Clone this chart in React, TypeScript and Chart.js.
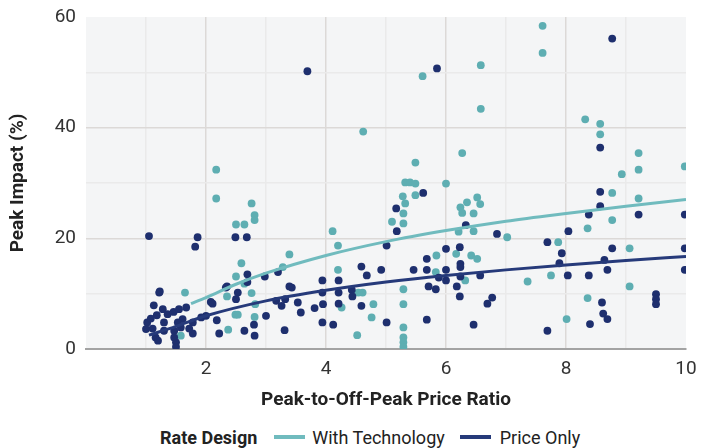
import React, { useEffect, useRef } from "react";
import { Chart, registerables } from "chart.js";

Chart.register(...registerables);

// ---- data ----
const withTechnology: [number, number][] = [
  [2.17, 32.4], [2.17, 27.2], [2.76, 26.3], [2.81, 24.2], [2.81, 23.3], [2.5, 22.5], [2.64, 22.5],
  [3.39, 17.1], [2.59, 15.5], [3.28, 14.8], [2.5, 13.1], [2.64, 11.8], [2.76, 10.1], [2.35, 9.5],
  [1.65, 10.2], [2.82, 8.1], [2.49, 6.2], [2.53, 6.2], [2.81, 5.8], [2.37, 3.5], [1.58, 2.4],
  [4.11, 21.3], [4.2, 18.7], [4.2, 14.3], [4.26, 7.5], [4.62, 39.3], [4.61, 10.2], [4.54, 10.2],
  [4.79, 8.1], [4.76, 5.7], [4.52, 2.5],
  [5.61, 49.3], [6.58, 51.3], [6.58, 43.4], [6.27, 35.4], [5.49, 33.7], [5.32, 30.1], [5.4, 30.1],
  [5.49, 29.9], [6.0, 29.9], [5.28, 27.6], [5.49, 27.8], [5.32, 26.3], [5.29, 24.5], [5.1, 23],
  [5.29, 22.7], [6.52, 27.4], [6.35, 26.5], [6.24, 25.6], [6.46, 24.5], [6.57, 26.2], [6.27, 24.6],
  [6.21, 21.2], [6.46, 21.3], [5.84, 16.9], [6.17, 17.2], [6.42, 16.9], [6.52, 16.3], [5.83, 13.9],
  [6.32, 12.4], [5.29, 10.8], [5.29, 8.1], [5.29, 3.9], [5.29, 2.1], [5.29, 1.2], [5.29, 0.4],
  [7.02, 20.2], [7.61, 58.4], [7.61, 53.5], [8.32, 41.5], [8.57, 40.7], [8.57, 38.8], [9.21, 35.4],
  [9.21, 32.4], [8.93, 31.6], [9.98, 33], [8.77, 28.2], [9.21, 27.2], [8.77, 23.3], [8.36, 21.8],
  [7.87, 19.3], [9.06, 18.2], [7.36, 12.2], [7.75, 13.3], [9.06, 11.3], [8.36, 9.2], [8.01, 5.4],
];

const priceOnly: [number, number][] = [
  [3.69, 50.2], [5.85, 50.7], [8.77, 56.1], [8.57, 36.4], [8.57, 28.4], [8.57, 25.8], [8.38, 24.3],
  [9.21, 24.3], [9.98, 24.3], [8.04, 21.3], [6.85, 20.8], [7.69, 19.3], [7.93, 17.3], [8.77, 18.2],
  [9.98, 18.2], [7.89, 15.5], [8.64, 16.1], [8.69, 14.3], [9.98, 14.3], [8.03, 13.3], [8.38, 13.3],
  [9.5, 9.9], [9.5, 9.0], [9.5, 8.1], [8.6, 8.4], [8.62, 6.4], [8.69, 5.4], [8.4, 4.5], [7.69, 3.3],
  [6.77, 9.3], [6.69, 8.2],
  [5.62, 28.2], [5.17, 25.4], [5.18, 21.3], [6.33, 22.4], [5.01, 18.7], [6.0, 18.1], [6.23, 18.4],
  [5.68, 16.3], [6.24, 15.4], [6.24, 14.8], [4.59, 14.9], [4.92, 14.3], [4.68, 13.3], [5.46, 14.3],
  [5.68, 14.3], [6.0, 14.3], [5.88, 12.9], [6.0, 12.4], [6.24, 13.1], [6.57, 13.3], [5.71, 11.3],
  [5.83, 10.8], [6.18, 11.3], [6.23, 9.5], [5.68, 5.3], [6.46, 4.4], [5.01, 4.8], [4.59, 7.8],
  [4.43, 10.7], [4.44, 9.5], [3.94, 12.4], [4.21, 12.4], [3.94, 10.2], [4.21, 10.2], [4.21, 8.2],
  [3.95, 8.1], [3.81, 7.4], [3.53, 8.4], [3.58, 6.6], [3.94, 4.8], [4.12, 4.4], [3.43, 11.1],
  [1.05, 20.4], [1.86, 20.2], [1.82, 18.5], [2.49, 20.2], [2.68, 20.2], [3.2, 13.9], [2.98, 13.1],
  [2.69, 13.5], [2.69, 12.1], [2.35, 11.3], [3.39, 11.3], [2.53, 10.2], [2.5, 9.0], [1.22, 10.2],
  [2.11, 8.2], [3.17, 8.7], [3.32, 9.0], [3.26, 7.8], [3.0, 6.0], [2.18, 5.2], [2.8, 4.4],
  [2.64, 3.3], [2.81, 2.4], [2.22, 2.8], [3.31, 3.4], [1.78, 2.8], [1.58, 3.9],
  [1.23, 10.4], [1.13, 7.9], [1.28, 7.2], [1.18, 6.1], [1.02, 4.8], [1.11, 3.7], [1.0, 3.6],
  [1.16, 2.1], [1.3, 4.8], [1.36, 6.3], [1.46, 6.7], [1.55, 7.2], [1.67, 7.5], [1.61, 5.4],
  [1.53, 4.8], [1.78, 4.8], [1.47, 3.3], [1.5, 1.2], [1.47, 2.1], [1.72, 3.7], [1.3, 3.3],
  [1.92, 5.7], [2.0, 6.0], [2.08, 8.5], [2.33, 11.1], [1.5, 0.4], [1.08, 5.5], [1.2, 1.5],
];

const techTrendX = [1.75, 2, 2.5, 3, 4, 5, 6, 7, 8, 9, 10];
const techTrendY = [8.2, 9.3, 11.7, 13.7, 16.9, 19.4, 21.4, 23.1, 24.5, 25.8, 27.0];
const priceTrendX = [1.05, 1.5, 2, 3, 4, 5, 6, 7, 8, 9, 10];
const priceTrendY = [2.5, 4.1, 6.0, 8.7, 10.6, 12.1, 13.3, 14.3, 15.2, 16.0, 16.7];

const xTickLabels = ["2", "4", "6", "8", "10"];
const yTickLabels = ["0", "20", "40", "60"];

const TEAL = "#5eaeb2";
const TEAL_LINE = "#70bbbe";
const NAVY = "#1e2f6e";
const NAVY_LINE = "#263a7a";
const FONT = "Roboto, 'Noto Sans', sans-serif";

const plotBg = {
  id: "plotBg",
  beforeDraw(chart: any) {
    const { ctx, chartArea } = chart;
    if (!chartArea) return;
    ctx.save();
    ctx.fillStyle = "#f4f5f6";
    ctx.fillRect(chartArea.left, chartArea.top, chartArea.right - chartArea.left, chartArea.bottom - chartArea.top);
    ctx.restore();
  },
};

export default function App() {
  const ref = useRef<HTMLCanvasElement | null>(null);

  useEffect(() => {
    if (!ref.current) return;
    const toPts = (arr: [number, number][]) => arr.map(([x, y]) => ({ x, y }));
    const zip = (xs: number[], ys: number[]) => xs.map((x, i) => ({ x, y: ys[i] }));
    const chart = new Chart(ref.current, {
      type: "scatter",
      data: {
        datasets: [
          {
            label: "With Technology fit",
            type: "line",
            data: zip(techTrendX, techTrendY),
            borderColor: TEAL_LINE,
            borderWidth: 3,
            pointRadius: 0,
            showLine: true,
            fill: false,
            cubicInterpolationMode: "monotone",
            order: 2,
          } as any,
          {
            label: "Price Only fit",
            type: "line",
            data: zip(priceTrendX, priceTrendY),
            borderColor: NAVY_LINE,
            borderWidth: 3,
            pointRadius: 0,
            showLine: true,
            fill: false,
            cubicInterpolationMode: "monotone",
            order: 2,
          } as any,
          {
            label: "With Technology",
            data: toPts(withTechnology),
            backgroundColor: TEAL,
            borderWidth: 0,
            pointRadius: 3.9,
            order: 4,
          },
          {
            label: "Price Only",
            data: toPts(priceOnly),
            backgroundColor: NAVY,
            borderWidth: 0,
            pointRadius: 3.9,
            order: 3,
          },
        ],
      },
      options: {
        animation: false,
        responsive: false,
        devicePixelRatio: 1,
        layout: { padding: { top: 17, right: 23, left: 0, bottom: 0 } },
        plugins: { legend: { display: false }, tooltip: { enabled: false } },
        scales: {
          x: {
            type: "linear",
            min: 0,
            max: 10,
            afterFit(scale: any) {
              scale.height = 71;
              scale.paddingLeft = 0;
              scale.paddingRight = 0;
            },
            ticks: {
              stepSize: 1,
              padding: 9,
              color: "#333",
              font: { family: FONT, size: 19 },
              maxRotation: 0,
              autoSkip: false,
              callback: (v: any) => (xTickLabels.includes(String(v)) ? String(v) : ""),
            },
            grid: {
              drawTicks: false,
              lineWidth: 1.5,
              color: (c: any) => {
                const v = c.tick?.value;
                if (v === 0 || v === 10) return "rgba(0,0,0,0)";
                return v % 2 === 0 ? "#dcd9d7" : "#eaeaea";
              },
            },
            border: { display: true, color: "#a3a3a3", width: 2 },
            title: {
              display: true,
              text: "Peak-to-Off-Peak Price Ratio",
              color: "#222",
              font: { family: FONT, size: 19, weight: "bold" },
              padding: { top: 0, bottom: 8 },
            },
          },
          y: {
            type: "linear",
            min: 0,
            max: 60,
            afterFit(scale: any) {
              scale.width = 86;
              scale.paddingTop = 0;
              scale.paddingBottom = 0;
            },
            ticks: {
              stepSize: 10,
              padding: 10,
              color: "#333",
              font: { family: FONT, size: 19 },
              callback: (v: any) => (yTickLabels.includes(String(v)) ? String(v) : ""),
            },
            grid: {
              drawTicks: false,
              lineWidth: 1.5,
              color: (c: any) => {
                const v = c.tick?.value;
                if (v === 0 || v === 60) return "rgba(0,0,0,0)";
                return v % 20 === 0 ? "#dcd9d7" : "#eaeaea";
              },
            },
            border: { display: false },
            title: {
              display: true,
              text: "Peak Impact (%)",
              color: "#222",
              font: { family: FONT, size: 19, weight: "bold" },
              padding: { top: 7, bottom: 0 },
            },
          },
        },
      },
      plugins: [plotBg],
    });
    return () => chart.destroy();
  }, []);

  const swatch = (color: string) => (
    <span style={{ display: "inline-block", width: 31, height: 4, background: color }} />
  );

  return (
    <div style={{ position: "absolute", left: 0, top: 0, width: 709, height: 448, background: "#fff", fontFamily: FONT }}>
      <canvas ref={ref} width={709} height={420} style={{ display: "block" }} />
      <div
        style={{
          position: "absolute",
          left: 160,
          top: 426,
          height: 22,
          display: "flex",
          alignItems: "center",
          fontSize: 18,
          color: "#222",
          whiteSpace: "nowrap",
        }}
      >
        <span style={{ fontWeight: "bold", marginRight: 17 }}>Rate Design</span>
        {swatch(TEAL_LINE)}
        <span style={{ marginLeft: 7, marginRight: 15 }}>With Technology</span>
        {swatch(NAVY_LINE)}
        <span style={{ marginLeft: 9 }}>Price Only</span>
      </div>
    </div>
  );
}
